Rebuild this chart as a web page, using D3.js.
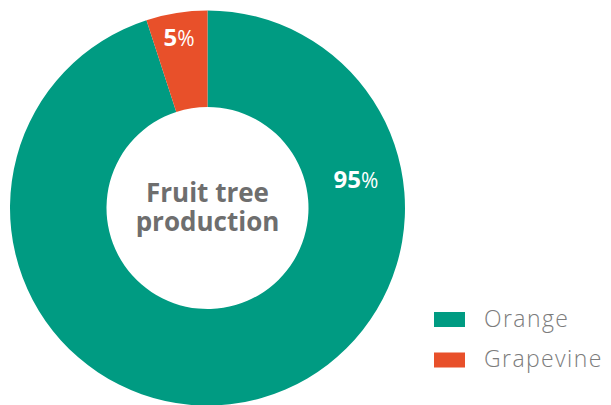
<!DOCTYPE html>
<html><head><meta charset="utf-8">
<script src="https://cdn.jsdelivr.net/npm/d3@7/dist/d3.min.js"></script>
<style>body{margin:0;background:#fff;}svg{display:block;font-family:"Open Sans","Noto Sans",sans-serif;}</style>
</head><body>
<svg id="c" width="611" height="405"></svg>
<script>
const categories = ["Orange", "Grapevine"];
const values = [95, 5];
const colors = ["#009B82", "#E8502A"];
const title = ["Fruit tree", "production"];

const svg = d3.select("#c");
const cx = 207.5, cy = 208, rOuter = 197.5, rInner = 101;
const g = svg.append("g").attr("transform", `translate(${cx},${cy})`);
const color = d3.scaleOrdinal().domain(categories).range(colors);
const data = categories.map((c, i) => ({cat: c, val: values[i]}));
const pie = d3.pie().value(d => d.val).sort(null);
const arc = d3.arc().innerRadius(rInner).outerRadius(rOuter);
const arcs = pie(data);
g.selectAll("path").data(arcs).join("path")
  .attr("d", arc).attr("fill", d => color(d.data.cat));

const labelPos = [[148.5, -20], [-28.5, -162.5]];
arcs.forEach((a, i) => {
  const t = g.append("text").attr("x", labelPos[i][0]).attr("y", labelPos[i][1])
    .attr("text-anchor", "middle").attr("fill", "#fff");
  t.append("tspan").attr("font-size", 24).attr("font-weight", 700).text(a.data.val);
  t.append("tspan").attr("font-size", 21).attr("font-weight", 400).text("%");
});

const tt = g.append("text").attr("class", "title").attr("text-anchor", "middle")
  .attr("font-size", 26).attr("font-weight", 700).attr("fill", "#6e6e6e");
tt.selectAll("tspan").data(title).join("tspan")
  .attr("x", 0).attr("y", (d, i) => -6 + i * 29).text(d => d);

const leg = svg.append("g").attr("transform", "translate(434,312)");
const items = leg.selectAll("g").data(categories).join("g")
  .attr("transform", (d, i) => `translate(0,${i * 40.5})`);
items.append("rect").attr("width", 31).attr("height", 15).attr("fill", d => color(d));
items.append("text").attr("x", 50).attr("y", 14.7)
  .attr("font-size", 23).attr("font-weight", 300).attr("letter-spacing", 1.4).attr("fill", "#7c7c7c").text(d => d);
</script>
</body></html>
